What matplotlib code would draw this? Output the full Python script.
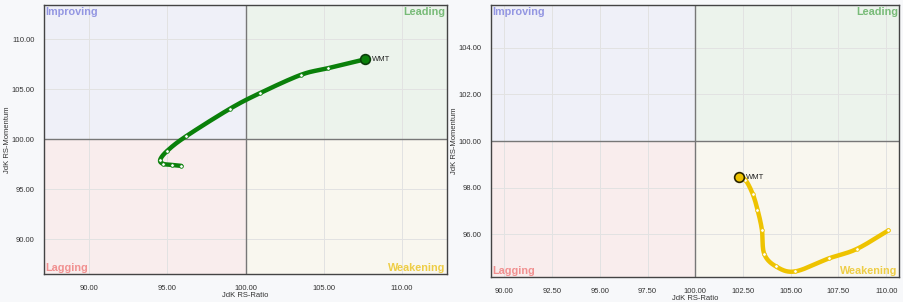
import numpy as np
import matplotlib
matplotlib.use("Agg")
import matplotlib.pyplot as plt

plt.rcParams['font.family'] = ['Liberation Sans', 'DejaVu Sans']

# ---- data ----
left_ticker = "WMT"
left_x = [95.9, 95.3, 94.75, 94.55, 95.0, 96.2, 99.0, 100.9, 103.55, 105.25, 107.65]
left_y = [97.35, 97.45, 97.55, 97.95, 98.85, 100.3, 103.05, 104.6, 106.45, 107.1, 108.0]
left_xticks = [90.0, 95.0, 100.0, 105.0, 110.0]
left_yticks = [90.0, 95.0, 100.0, 105.0, 110.0]

right_ticker = "WMT"
right_x = [110.12, 108.45, 107.0, 105.22, 104.22, 103.61, 103.49, 103.26, 103.0, 102.62, 102.29]
right_y = [96.17, 95.37, 94.97, 94.41, 94.63, 95.17, 96.2, 97.06, 97.75, 98.34, 98.44]
right_xticks = [90.0, 92.5, 95.0, 97.5, 100.0, 102.5, 105.0, 107.5, 110.0]
right_yticks = [96.0, 98.0, 100.0, 102.0, 104.0]

quadrant_names = ["Improving", "Leading", "Lagging", "Weakening"]


def catmull(xs, ys, n=20):
    p = np.column_stack([xs, ys]).astype(float)
    p = np.vstack([p[0] * 2 - p[1], p, p[-1] * 2 - p[-2]])
    out = []
    for i in range(1, len(p) - 2):
        p0, p1, p2, p3 = p[i - 1], p[i], p[i + 1], p[i + 2]
        t = np.linspace(0, 1, n, endpoint=False)[:, None]
        seg = 0.5 * ((2 * p1) + (-p0 + p2) * t + (2 * p0 - 5 * p1 + 4 * p2 - p3) * t ** 2
                     + (-p0 + 3 * p1 - 3 * p2 + p3) * t ** 3)
        out.append(seg)
    out.append(p[-2][None, :])
    out = np.vstack(out)
    return out[:, 0], out[:, 1]


def draw(ax, xs, ys, name, color, edge, xlim, ylim, xticks, yticks):
    ax.set_xlim(*xlim)
    ax.set_ylim(*ylim)
    qc = {"Improving": "#eff0f8", "Leading": "#ecf3ec", "Lagging": "#f9eded", "Weakening": "#f9f7ef"}
    ax.axvspan(xlim[0], 100, ymin=0.5, ymax=1, color=qc["Improving"], zorder=0, lw=0)
    ax.axvspan(100, xlim[1], ymin=0.5, ymax=1, color=qc["Leading"], zorder=0, lw=0)
    ax.axvspan(xlim[0], 100, ymin=0, ymax=0.5, color=qc["Lagging"], zorder=0, lw=0)
    ax.axvspan(100, xlim[1], ymin=0, ymax=0.5, color=qc["Weakening"], zorder=0, lw=0)
    ax.set_xticks(xticks)
    ax.set_yticks(yticks)
    ax.set_xticklabels([f"{v:.2f}" for v in xticks], fontsize=5.5, color="#333333")
    ax.set_yticklabels([f"{v:.2f}" for v in yticks], fontsize=5.5, color="#333333")
    ax.tick_params(length=0, pad=8)
    ax.tick_params(axis="y", pad=7)
    ax.grid(True, color="#e2e2e2", lw=0.7, zorder=1)
    ax.set_axisbelow(True)
    ax.axvline(100, color="#777777", lw=1.0, zorder=2)
    ax.axhline(100, color="#777777", lw=1.0, zorder=2)
    for s in ax.spines.values():
        s.set_color("#444444")
        s.set_linewidth(1.0)
    ax.set_xlabel("JdK RS-Ratio", fontsize=5.5, color="#333333", labelpad=0)
    ax.set_ylabel("JdK RS-Momentum", fontsize=5.5, color="#333333", labelpad=0.5)
    kw = dict(transform=ax.transAxes, fontsize=7.8, fontweight="bold")
    ax.text(0.003, 0.99, "Improving", color="#9396e2", ha="left", va="top", **kw)
    ax.text(0.997, 0.99, "Leading", color="#78bb78", ha="right", va="top", **kw)
    ax.text(0.003, 0.005, "Lagging", color="#f19090", ha="left", va="bottom", **kw)
    ax.text(0.997, 0.005, "Weakening", color="#eecd45", ha="right", va="bottom", **kw)
    sx, sy = catmull(xs, ys)
    ax.plot(sx, sy, color=color, lw=3.2, solid_capstyle="round", zorder=4)
    ax.plot(xs[:-1], ys[:-1], "o", ms=2.6, mfc="white", mec=color, mew=0.6, lw=0, zorder=5)
    ax.plot(xs[-1], ys[-1], "o", ms=7, mfc=color, mec=edge, mew=1.2, zorder=6)
    ax.annotate(name, (xs[-1], ys[-1]), xytext=(5, 0), textcoords="offset points",
                fontsize=5.5, color="#222222", va="center", ha="left", zorder=7)


fig = plt.figure(figsize=(9.04, 3.02), dpi=100, facecolor="#f7f8fa")
ax1 = fig.add_axes([44.3 / 904, 1 - 274 / 302, (446.7 - 44.3) / 904, (274 - 4.7) / 302])
ax2 = fig.add_axes([491.3 / 904, 1 - 277.3 / 302, (899 - 491.3) / 904, (277.3 - 4.7) / 302])

draw(ax1, left_x, left_y, left_ticker, "#0a800a", "#0b3d0b", (87.15, 112.85), (86.55, 113.45),
     left_xticks, left_yticks)
draw(ax2, right_x, right_y, right_ticker, "#eec300", "#2a2400", (89.32, 110.67), (94.16, 105.84),
     right_xticks, right_yticks)

fig.savefig("out.png", dpi=100, facecolor=fig.get_facecolor())
